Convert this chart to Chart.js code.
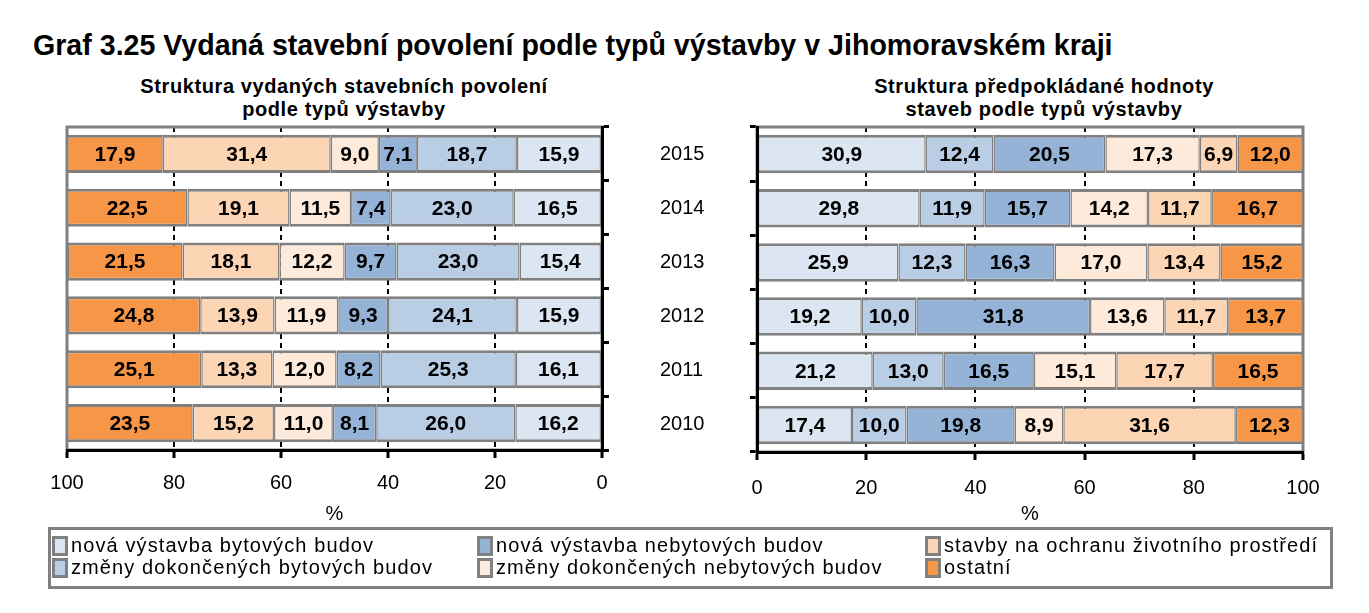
<!DOCTYPE html>
<html>
<head>
<meta charset="utf-8">
<script src="https://cdn.jsdelivr.net/npm/chart.js@4.4.0/dist/chart.umd.min.js"></script>
<style>
  body { margin: 0; background: #fff; }
  #page { position: relative; width: 1369px; height: 613px; overflow: hidden; font-family: "Liberation Sans", Arial, sans-serif; color: #000; }
  #title { position: absolute; left: 33px; top: 28px; font-size: 28.6px; font-weight: bold; line-height: 34px; white-space: nowrap; }
  .sub { position: absolute; top: 75px; width: 500px; text-align: center; font-size: 20px; font-weight: bold; line-height: 23px; letter-spacing: 0.6px; }
  canvas { position: absolute; }
  #legend { position: absolute; left: 48px; top: 527px; width: 1285px; height: 62px; box-sizing: border-box; border: 3px solid #808080; }
  .item { position: absolute; font-size: 20px; line-height: 22px; white-space: nowrap; letter-spacing: 1.1px; }
  .item i { display: inline-block; width: 16px; height: 20px; box-sizing: border-box; border: 3px solid #808080; vertical-align: -4px; margin-right: 3px; }
</style>
</head>
<body>
<div id="page">
  <div id="title">Graf 3.25 Vydaná stavební povolení podle typů výstavby v Jihomoravském kraji</div>
  <div class="sub" style="left:94px">Struktura vydaných stavebních povolení<br>podle typů výstavby</div>
  <div class="sub" style="left:794px">Struktura předpokládané hodnoty<br>staveb podle typů výstavby</div>
  <canvas id="left" width="640" height="440" style="left:0;top:100px"></canvas>
  <canvas id="right" width="729" height="440" style="left:640px;top:100px"></canvas>
  <div id="legend"></div>
</div>
<script>
//-------------------- DATA --------------------
const years = ['2015', '2014', '2013', '2012', '2011', '2010'];
const seriesNames = [
    'nová výstavba bytových budov',
    'změny dokončených bytových budov',
    'nová výstavba nebytových budov',
    'změny dokončených nebytových budov',
    'stavby na ochranu životního prostředí',
    'ostatní'
];
const colors = ['#DCE6F2', '#B9CDE5', '#95B3D7', '#FDEADA', '#FCD5B5', '#F79646'];

// Struktura vydaných stavebních povolení (%)
const povNovaByt   = [15.9, 16.5, 15.4, 15.9, 16.1, 16.2];
const povZmenyByt  = [18.7, 23.0, 23.0, 24.1, 25.3, 26.0];
const povNovaNebyt = [7.1, 7.4, 9.7, 9.3, 8.2, 8.1];
const povZmenyNebyt = [9.0, 11.5, 12.2, 11.9, 12.0, 11.0];
const povOchrana   = [31.4, 19.1, 18.1, 13.9, 13.3, 15.2];
const povOstatni   = [17.9, 22.5, 21.5, 24.8, 25.1, 23.5];

// Struktura předpokládané hodnoty staveb (%)
const hodNovaByt   = [30.9, 29.8, 25.9, 19.2, 21.2, 17.4];
const hodZmenyByt  = [12.4, 11.9, 12.3, 10.0, 13.0, 10.0];
const hodNovaNebyt = [20.5, 15.7, 16.3, 31.8, 16.5, 19.8];
const hodZmenyNebyt = [17.3, 14.2, 17.0, 13.6, 15.1, 8.9];
const hodOchrana   = [6.9, 11.7, 13.4, 11.7, 17.7, 31.6];
const hodOstatni   = [12.0, 16.7, 15.2, 13.7, 16.5, 12.3];

//-------------------- PLUGINS --------------------
const FONT = '"Liberation Sans", Arial, sans-serif';

// grey frame round the plot area, under the bars
const boxPlugin = {
    id: 'box',
    beforeDatasetsDraw(chart) {
        const a = chart.chartArea, c = chart.ctx;
        c.save();
        c.strokeStyle = '#808080';
        c.lineWidth = 3;
        c.strokeRect(a.left, a.top, a.right - a.left, a.bottom - a.top);
        c.restore();
    }
};

// value labels in the middle of each segment
const labelPlugin = {
    id: 'vals',
    afterDatasetsDraw(chart) {
        const c = chart.ctx;
        c.save();
        c.font = 'bold 21px ' + FONT;
        c.fillStyle = '#000';
        c.textAlign = 'center';
        c.textBaseline = 'middle';
        chart.data.datasets.forEach((ds, i) => {
            chart.getDatasetMeta(i).data.forEach((bar, j) => {
                const p = bar.getProps(['x', 'y', 'base'], true);
                c.fillText(ds.data[j].toFixed(1).replace('.', ','), (p.x + p.base) / 2, p.y + 1);
            });
        });
        c.restore();
    }
};

//-------------------- CHARTS --------------------
function makeChart(id, series, reverse, pad, xHeight, yWidth, tickPad) {
    return new Chart(document.getElementById(id), {
        type: 'bar',
        data: {
            labels: years,
            datasets: series.map((d, i) => ({
                label: seriesNames[i],
                data: d,
                backgroundColor: colors[i],
                borderColor: '#808080',
                borderWidth: { top: 3, bottom: 3, left: 1.5, right: 1.5 },
                borderSkipped: false,
                barPercentage: 0.71,
                categoryPercentage: 1
            }))
        },
        options: {
            indexAxis: 'y',
            responsive: false,
            animation: false,
            events: [],
            layout: { padding: pad },
            plugins: { legend: { display: false }, tooltip: { enabled: false } },
            scales: {
                x: {
                    stacked: true,
                    reverse: reverse,
                    min: 0,
                    max: 100,
                    afterFit: s => { s.height = xHeight; },
                    ticks: { stepSize: 20, color: '#000', padding: tickPad, font: { family: FONT, size: 20 } },
                    grid: {
                        color: c => (c.tick && c.tick.value % 100 === 0) ? 'rgba(0,0,0,0)' : '#000',
                        lineWidth: 2,
                        tickColor: '#000',
                        tickWidth: 3,
                        tickLength: 8
                    },
                    border: { color: '#000', width: 3, dash: [5, 4], z: 1 },
                    title: { display: true, text: '%', color: '#000', padding: { top: 0, bottom: 14 }, font: { family: FONT, size: 20 } }
                },
                y: {
                    stacked: true,
                    position: reverse ? 'right' : 'left',
                    afterFit: s => { s.width = yWidth; },
                    ticks: { display: !reverse, crossAlign: 'far', color: '#000', padding: 4, font: { family: FONT, size: 20 } },
                    grid: { drawOnChartArea: false, color: '#000', lineWidth: 3, tickLength: 7 },
                    border: { color: '#000', width: 3, z: 1 }
                }
            }
        },
        plugins: [boxPlugin, labelPlugin]
    });
}

makeChart('left',
    [povNovaByt, povZmenyByt, povNovaNebyt, povZmenyNebyt, povOchrana, povOstatni],
    true, { left: 67, top: 27, right: 0, bottom: 0 }, 90, 38, 13);

makeChart('right',
    [hodNovaByt, hodZmenyByt, hodNovaNebyt, hodZmenyNebyt, hodOchrana, hodOstatni],
    false, { left: 20, top: 27, right: 66, bottom: 0 }, 88, 97, 16);

//-------------------- LEGEND --------------------
// legend laid out column by column, as in the picture
const legendPos = [[52, 534], [52, 556], [477, 534], [477, 556], [925, 534], [925, 556]];
const page = document.getElementById('page');
seriesNames.forEach((name, k) => {
    const el = document.createElement('div');
    el.className = 'item';
    el.style.left = legendPos[k][0] + 'px';
    el.style.top = legendPos[k][1] + 'px';
    el.innerHTML = '<i style="background:' + colors[k] + '"></i>' + name;
    page.appendChild(el);
});
</script>
</body>
</html>
